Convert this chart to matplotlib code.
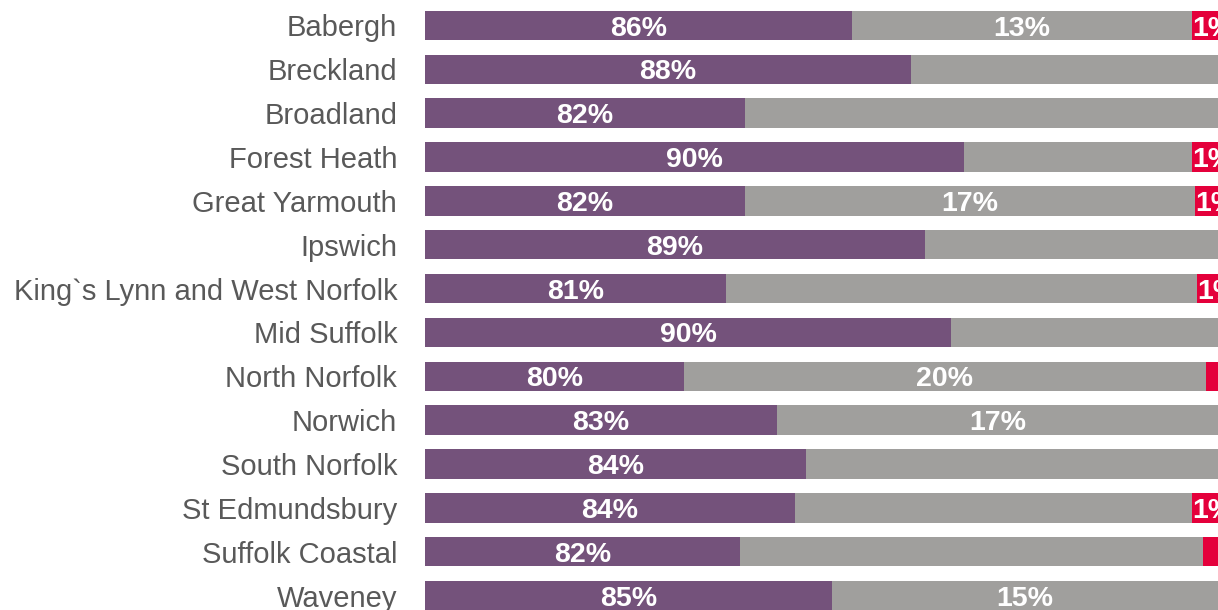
import matplotlib.pyplot as plt

plt.rcParams['font.family'] = ['Liberation Sans', 'DejaVu Sans']

# Datos
areas = ['Babergh', 'Breckland', 'Broadland', 'Forest Heath', 'Great Yarmouth',
         'Ipswich', 'King`s Lynn and West Norfolk', 'Mid Suffolk', 'North Norfolk',
         'Norwich', 'South Norfolk', 'St Edmundsbury', 'Suffolk Coastal', 'Waveney']
purple_vals = [0.8615, 0.884, 0.821, 0.904, 0.821, 0.889, 0.814, 0.899, 0.798,
               0.833, 0.844, 0.840, 0.819, 0.854]
grey_vals = [0.1287, 0.116, 0.179, 0.0862, 0.1703, 0.111, 0.1781, 0.101, 0.1973,
             0.167, 0.156, 0.1502, 0.1753, 0.146]
red_vals = [0.0098, 0.0, 0.0, 0.0098, 0.0087, 0.0, 0.0079, 0.0, 0.0047,
            0.0, 0.0, 0.0098, 0.0057, 0.0]
purple_labels = ['86%', '88%', '82%', '90%', '82%', '89%', '81%', '90%', '80%',
                 '83%', '84%', '84%', '82%', '85%']
grey_labels = ['13%', '', '', '', '17%', '', '', '', '20%', '17%', '', '', '', '15%']
red_labels = ['1%', '', '', '1%', '1%', '', '1%', '', '', '', '', '1%', '', '']

c_purple = '#74527b'
c_grey = '#a09f9d'
c_red = '#e4003b'

fig = plt.figure(figsize=(12.18, 6.10), dpi=100)
ax = fig.add_axes([425 / 1218, 0, 1 - 425 / 1218, 1])

xmin, xmax = 0.70, 1.0
y = list(range(len(areas)))
h = 0.67

left_grey = [p for p in purple_vals]
left_red = [p + g for p, g in zip(purple_vals, grey_vals)]
ax.barh(y, purple_vals, height=h, color=c_purple)
ax.barh(y, grey_vals, left=left_grey, height=h, color=c_grey)
ax.barh(y, red_vals, left=left_red, height=h, color=c_red)

ax.set_xlim(xmin, xmax)
ax.set_ylim(13.33, -0.58)

# Etiquetas dentro de las barras
lab = dict(color='white', fontsize=20.5, fontweight='bold', va='center')
dy = 0.07
for i in y:
    p, g, r = purple_vals[i], grey_vals[i], red_vals[i]
    ax.text((xmin + p) / 2, i + dy, purple_labels[i], ha='center', **lab)
    if grey_labels[i]:
        ax.text(p + g / 2, i + dy, grey_labels[i], ha='center', **lab)
    if red_labels[i]:
        # la etiqueta roja queda cortada en el borde derecho, como en el original
        ax.text(p + g, i + dy, red_labels[i], ha='left', clip_on=True, **lab)

ax.set_yticks(y)
ax.set_yticklabels(areas, fontsize=21, color='#595959')
ax.tick_params(axis='y', length=0, pad=20)
ax.set_xticks([])
for s in ax.spines.values():
    s.set_visible(False)

fig.savefig('out.png', dpi=100)
